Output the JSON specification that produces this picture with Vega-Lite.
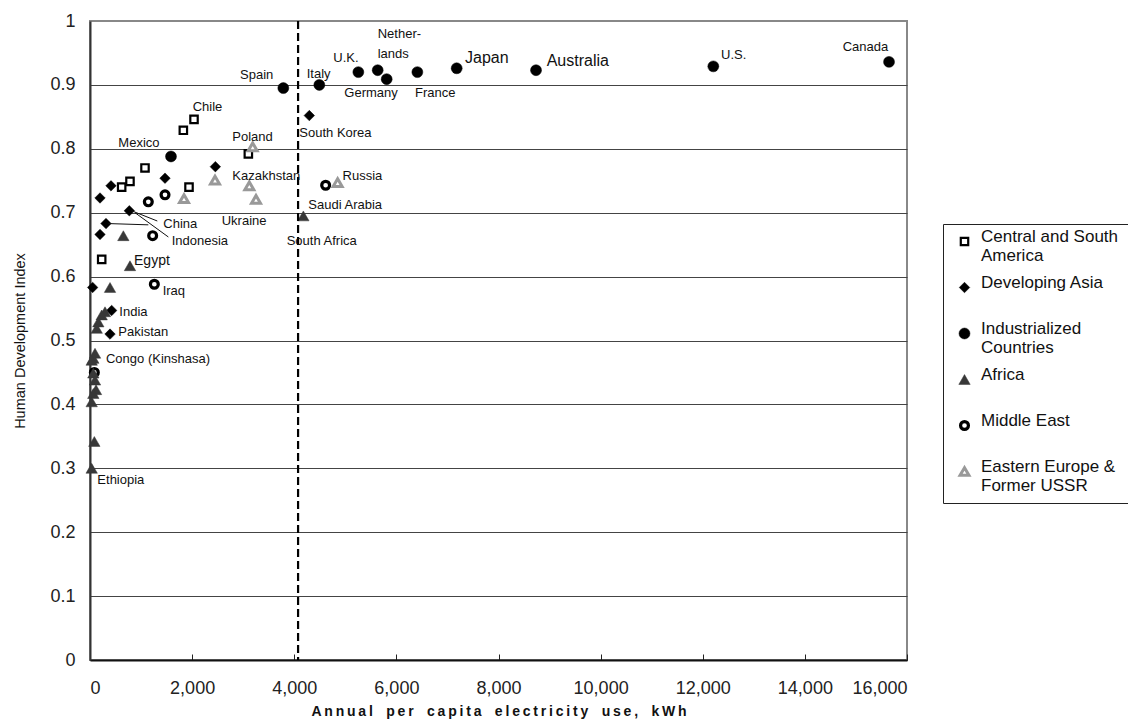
{
  "$schema": "https://vega.github.io/schema/vega-lite/v6.json",
  "width": 817,
  "height": 639,
  "autosize": {"type": "none"},
  "padding": {"left": 90, "top": 21, "right": 221, "bottom": 66},
  "background": "white",
  "config": {
    "font": "Liberation Sans",
    "view": {"stroke": "#888888", "strokeWidth": 2}
  },
  "datasets": {
    "points": [
      {"country": "Spain", "region": "Industrialized Countries", "kwh": 3786, "hdi": 0.895},
      {"country": "Italy", "region": "Industrialized Countries", "kwh": 4491, "hdi": 0.900},
      {"country": "U.K.", "region": "Industrialized Countries", "kwh": 5255, "hdi": 0.920},
      {"country": "Netherlands", "region": "Industrialized Countries", "kwh": 5634, "hdi": 0.923},
      {"country": "Germany", "region": "Industrialized Countries", "kwh": 5810, "hdi": 0.909},
      {"country": "France", "region": "Industrialized Countries", "kwh": 6411, "hdi": 0.920},
      {"country": "Japan", "region": "Industrialized Countries", "kwh": 7181, "hdi": 0.926},
      {"country": "Australia", "region": "Industrialized Countries", "kwh": 8735, "hdi": 0.923},
      {"country": "U.S.", "region": "Industrialized Countries", "kwh": 12207, "hdi": 0.929},
      {"country": "Canada", "region": "Industrialized Countries", "kwh": 15648, "hdi": 0.936},
      {"country": "", "region": "Industrialized Countries", "kwh": 1586, "hdi": 0.788},
      {"country": "Chile", "region": "Central and South America", "kwh": 2037, "hdi": 0.846},
      {"country": "", "region": "Central and South America", "kwh": 1828, "hdi": 0.829},
      {"country": "Mexico", "region": "Central and South America", "kwh": 1077, "hdi": 0.770},
      {"country": "", "region": "Central and South America", "kwh": 783, "hdi": 0.749},
      {"country": "", "region": "Central and South America", "kwh": 620, "hdi": 0.740},
      {"country": "", "region": "Central and South America", "kwh": 1939, "hdi": 0.740},
      {"country": "", "region": "Central and South America", "kwh": 229, "hdi": 0.627},
      {"country": "", "region": "Central and South America", "kwh": 3101, "hdi": 0.792},
      {"country": "South Korea", "region": "Developing Asia", "kwh": 4295, "hdi": 0.852},
      {"country": "", "region": "Developing Asia", "kwh": 2455, "hdi": 0.772},
      {"country": "", "region": "Developing Asia", "kwh": 1469, "hdi": 0.754},
      {"country": "", "region": "Developing Asia", "kwh": 411, "hdi": 0.742},
      {"country": "", "region": "Developing Asia", "kwh": 196, "hdi": 0.723},
      {"country": "China", "region": "Developing Asia", "kwh": 770, "hdi": 0.703},
      {"country": "Indonesia", "region": "Developing Asia", "kwh": 313, "hdi": 0.683},
      {"country": "", "region": "Developing Asia", "kwh": 196, "hdi": 0.666},
      {"country": "", "region": "Developing Asia", "kwh": 52, "hdi": 0.583},
      {"country": "India", "region": "Developing Asia", "kwh": 424, "hdi": 0.547},
      {"country": "Pakistan", "region": "Developing Asia", "kwh": 392, "hdi": 0.510},
      {"country": "Saudi Arabia", "region": "Middle East", "kwh": 4615, "hdi": 0.743},
      {"country": "", "region": "Middle East", "kwh": 1142, "hdi": 0.717},
      {"country": "", "region": "Middle East", "kwh": 1469, "hdi": 0.728},
      {"country": "", "region": "Middle East", "kwh": 1227, "hdi": 0.664},
      {"country": "Iraq", "region": "Middle East", "kwh": 1260, "hdi": 0.588},
      {"country": "", "region": "Middle East", "kwh": 85, "hdi": 0.450},
      {"country": "South Africa", "region": "Africa", "kwh": 4178, "hdi": 0.695},
      {"country": "", "region": "Africa", "kwh": 653, "hdi": 0.664},
      {"country": "Egypt", "region": "Africa", "kwh": 783, "hdi": 0.617},
      {"country": "", "region": "Africa", "kwh": 392, "hdi": 0.583},
      {"country": "", "region": "Africa", "kwh": 294, "hdi": 0.545},
      {"country": "", "region": "Africa", "kwh": 229, "hdi": 0.540},
      {"country": "", "region": "Africa", "kwh": 163, "hdi": 0.529},
      {"country": "", "region": "Africa", "kwh": 131, "hdi": 0.519},
      {"country": "", "region": "Africa", "kwh": 98, "hdi": 0.480},
      {"country": "", "region": "Africa", "kwh": 65, "hdi": 0.472},
      {"country": "Congo (Kinshasa)", "region": "Africa", "kwh": 33, "hdi": 0.469},
      {"country": "", "region": "Africa", "kwh": 65, "hdi": 0.449},
      {"country": "", "region": "Africa", "kwh": 98, "hdi": 0.438},
      {"country": "", "region": "Africa", "kwh": 118, "hdi": 0.423},
      {"country": "", "region": "Africa", "kwh": 65, "hdi": 0.417},
      {"country": "", "region": "Africa", "kwh": 33, "hdi": 0.404},
      {"country": "", "region": "Africa", "kwh": 85, "hdi": 0.342},
      {"country": "Ethiopia", "region": "Africa", "kwh": 33, "hdi": 0.300},
      {"country": "Poland", "region": "Eastern Europe & Former USSR", "kwh": 3186, "hdi": 0.803},
      {"country": "", "region": "Eastern Europe & Former USSR", "kwh": 2448, "hdi": 0.751},
      {"country": "Kazakhstan", "region": "Eastern Europe & Former USSR", "kwh": 3120, "hdi": 0.742},
      {"country": "Ukraine", "region": "Eastern Europe & Former USSR", "kwh": 3251, "hdi": 0.721},
      {"country": "", "region": "Eastern Europe & Former USSR", "kwh": 1841, "hdi": 0.722},
      {"country": "Russia", "region": "Eastern Europe & Former USSR", "kwh": 4850, "hdi": 0.747}
    ],
    "labels": [
      {"text": "Spain", "kwh": 2938, "hdi": 0.915},
      {"text": "Italy", "kwh": 4244, "hdi": 0.917},
      {"text": "U.K.", "kwh": 4765, "hdi": 0.942},
      {"text": "Nether-", "kwh": 5634, "hdi": 0.979},
      {"text": "lands", "kwh": 5634, "hdi": 0.949},
      {"text": "Germany", "kwh": 4981, "hdi": 0.887},
      {"text": "France", "kwh": 6365, "hdi": 0.888},
      {"text": "U.S.", "kwh": 12358, "hdi": 0.947},
      {"text": "Canada", "kwh": 14741, "hdi": 0.959},
      {"text": "South Korea", "kwh": 4099, "hdi": 0.824},
      {"text": "Poland", "kwh": 2787, "hdi": 0.819},
      {"text": "Kazakhstan", "kwh": 2787, "hdi": 0.758},
      {"text": "Russia", "kwh": 4947, "hdi": 0.758},
      {"text": "Saudi Arabia", "kwh": 4276, "hdi": 0.712},
      {"text": "Ukraine", "kwh": 2579, "hdi": 0.687},
      {"text": "South Africa", "kwh": 3852, "hdi": 0.656},
      {"text": "Chile", "kwh": 2011, "hdi": 0.866},
      {"text": "Mexico", "kwh": 555, "hdi": 0.809},
      {"text": "China", "kwh": 1436, "hdi": 0.683},
      {"text": "Indonesia", "kwh": 1600, "hdi": 0.655},
      {"text": "Iraq", "kwh": 1423, "hdi": 0.578},
      {"text": "India", "kwh": 574, "hdi": 0.544},
      {"text": "Pakistan", "kwh": 555, "hdi": 0.514},
      {"text": "Congo (Kinshasa)", "kwh": 313, "hdi": 0.471},
      {"text": "Ethiopia", "kwh": 144, "hdi": 0.282}
    ],
    "biglabels": [
      {"text": "Japan", "kwh": 7344, "hdi": 0.942},
      {"text": "Australia", "kwh": 8944, "hdi": 0.937}
    ],
    "egypt": [
      {"text": "Egypt", "kwh": 862, "hdi": 0.624}
    ],
    "arrows": [
      {"kwh": 1318, "kwh2": 816, "hdi": 0.687, "hdi2": 0.703},
      {"kwh": 1534, "kwh2": 881, "hdi": 0.662, "hdi2": 0.700},
      {"kwh": 1142, "kwh2": 359, "hdi": 0.681, "hdi2": 0.683}
    ],
    "threshold": [{"kwh": 4075}]
  },
  "layer": [
    {
      "data": {"name": "points"},
      "mark": {"type": "point", "filled": false, "opacity": 1},
      "encoding": {
        "x": {
          "field": "kwh", "type": "quantitative",
          "scale": {"domain": [0, 16000], "nice": false},
          "axis": {
            "values": [0, 2000, 4000, 6000, 8000, 10000, 12000, 14000, 16000],
            "labelExpr": "format(datum.value, ',')",
            "title": "A\u2009n\u2009n\u2009u\u2009a\u2009l\u00a0\u2009\u00a0\u2009p\u2009e\u2009r\u00a0\u2009\u00a0\u2009c\u2009a\u2009p\u2009i\u2009t\u2009a\u00a0\u2009\u00a0\u2009e\u2009l\u2009e\u2009c\u2009t\u2009r\u2009i\u2009c\u2009i\u2009t\u2009y\u00a0\u2009\u00a0\u2009u\u2009s\u2009e\u2009,\u00a0\u2009\u00a0\u2009k\u2009W\u2009h",
            "titleFontWeight": "bold",
            "titleFontSize": 14,
            "titleColor": "#111",
            "titlePadding": 7,
            "labelFontSize": 18,
            "labelColor": "#222",
            "labelPadding": 25,
            "tickSize": -6,
            "tickColor": "#222",
            "domainColor": "#111",
            "domainWidth": 2,
            "grid": false
          }
        },
        "y": {
          "field": "hdi", "type": "quantitative",
          "scale": {"domain": [0, 1], "nice": false},
          "axis": {
            "values": [0, 0.1, 0.2, 0.3, 0.4, 0.5, 0.6, 0.7, 0.8, 0.9, 1],
            "labelExpr": "format(datum.value, '~g')",
            "title": "Human Development Index",
            "titleFontWeight": "normal",
            "titleFontSize": 14.5,
            "titleColor": "#111",
            "titlePadding": 22,
            "labelFontSize": 18,
            "labelColor": "#222",
            "labelPadding": 15,
            "ticks": false,
            "domainColor": "#333",
            "domainWidth": 2,
            "grid": true,
            "gridColor": {"condition": {"test": "datum.value >= 1", "value": "transparent"}, "value": "#444"},
            "gridWidth": 1.2
          }
        },
        "shape": {
          "field": "region", "type": "nominal",
          "scale": {
            "domain": ["Central and South America", "Developing Asia", "Industrialized Countries", "Africa", "Middle East", "Eastern Europe & Former USSR"],
            "range": ["square", "diamond", "circle", "triangle-up", "circle", "triangle-up"]
          },
          "legend": {
            "orient": "none",
            "legendX": 853,
            "legendY": 203,
            "title": null,
            "strokeColor": "#222",
            "fillColor": "white",
            "padding": 9,
            "labelFont": "Liberation Sans",
            "labelFontSize": 17,
            "labelColor": "#111",
            "labelLineHeight": 24,
            "labelBaseline": "alphabetic",
            "labelLimit": 300,
            "rowPadding": 9,
            "labelOffset": 8,
            "symbolOffset": 4,
            "labelExpr": "datum.label == 'Central and South America' ? ['Central and South', 'America'] : datum.label == 'Industrialized Countries' ? ['Industrialized', 'Countries'] : datum.label == 'Eastern Europe & Former USSR' ? ['Eastern Europe &', 'Former USSR'] : [datum.label, '']"
          }
        },
        "fill": {
          "field": "region", "type": "nominal",
          "scale": {
            "domain": ["Central and South America", "Developing Asia", "Industrialized Countries", "Africa", "Middle East", "Eastern Europe & Former USSR"],
            "range": ["white", "black", "black", "#383838", "white", "white"]
          }
        },
        "stroke": {
          "field": "region", "type": "nominal",
          "scale": {
            "domain": ["Central and South America", "Developing Asia", "Industrialized Countries", "Africa", "Middle East", "Eastern Europe & Former USSR"],
            "range": ["black", "black", "black", "#383838", "black", "#999999"]
          }
        },
        "strokeWidth": {
          "field": "region", "type": "nominal",
          "scale": {
            "type": "ordinal",
            "domain": ["Central and South America", "Developing Asia", "Industrialized Countries", "Africa", "Middle East", "Eastern Europe & Former USSR"],
            "range": [2.2, 0.5, 0.5, 0.5, 3.2, 3]
          }
        },
        "size": {
          "field": "region", "type": "nominal",
          "scale": {
            "type": "ordinal",
            "domain": ["Central and South America", "Developing Asia", "Industrialized Countries", "Africa", "Middle East", "Eastern Europe & Former USSR"],
            "range": [55, 110, 120, 130, 62, 80]
          }
        }
      }
    },
    {
      "data": {"name": "threshold"},
      "mark": {"type": "rule", "color": "black", "strokeWidth": 2.2, "strokeDash": [8, 4]},
      "encoding": {
        "x": {"field": "kwh", "type": "quantitative"}
      }
    },
    {
      "data": {"name": "arrows"},
      "mark": {"type": "rule", "color": "#111", "strokeWidth": 1},
      "encoding": {
        "x": {"field": "kwh", "type": "quantitative"},
        "x2": {"field": "kwh2"},
        "y": {"field": "hdi", "type": "quantitative"},
        "y2": {"field": "hdi2"}
      }
    },
    {
      "data": {"name": "labels"},
      "mark": {"type": "text", "align": "left", "baseline": "middle", "fontSize": 13, "color": "#111", "font": "Liberation Sans"},
      "encoding": {
        "x": {"field": "kwh", "type": "quantitative"},
        "y": {"field": "hdi", "type": "quantitative"},
        "text": {"field": "text", "type": "nominal"}
      }
    },
    {
      "data": {"name": "biglabels"},
      "mark": {"type": "text", "align": "left", "baseline": "middle", "fontSize": 16, "letterSpacing": 0.8, "color": "#111", "font": "Liberation Sans"},
      "encoding": {
        "x": {"field": "kwh", "type": "quantitative"},
        "y": {"field": "hdi", "type": "quantitative"},
        "text": {"field": "text", "type": "nominal"}
      }
    },
    {
      "data": {"name": "egypt"},
      "mark": {"type": "text", "align": "left", "baseline": "middle", "fontSize": 14, "letterSpacing": 1.5, "color": "#111", "font": "Liberation Sans"},
      "encoding": {
        "x": {"field": "kwh", "type": "quantitative"},
        "y": {"field": "hdi", "type": "quantitative"},
        "text": {"field": "text", "type": "nominal"}
      }
    }
  ]
}
